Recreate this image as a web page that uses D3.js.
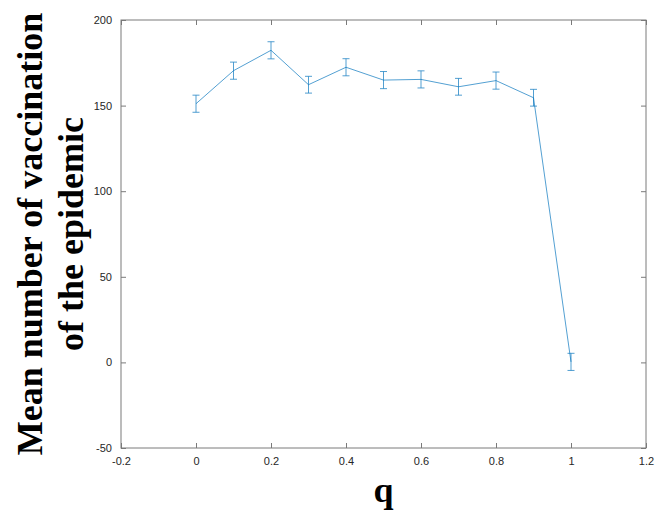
<!DOCTYPE html>
<html><head><meta charset="utf-8">
<script src="https://cdn.jsdelivr.net/npm/d3@7"></script>
<style>body{margin:0;background:#fff}</style>
</head><body><svg id="c" width="655" height="519"></svg>
<script>
const qValues = [0, 0.1, 0.2, 0.3, 0.4, 0.5, 0.6, 0.7, 0.8, 0.9, 1.0];
const meanValues = [151.1, 170.4, 182.3, 162.2, 172.4, 164.9, 165.3, 161.0, 164.6, 154.6, 0.3];
const errValues = [5.0, 5.0, 5.0, 4.9, 5.0, 5.0, 5.0, 4.9, 5.0, 4.9, 5.0];
const xTicks = [-0.2, 0, 0.2, 0.4, 0.6, 0.8, 1, 1.2];
const yTicks = [-50, 0, 50, 100, 150, 200];

const svg = d3.select("#c");
const L = 121, R = 646, T = 20, B = 448;
const x = d3.scaleLinear().domain([-0.2, 1.2]).range([L, R]);
const y = d3.scaleLinear().domain([-50, 200]).range([B, T]);
const axisColor = "#7a7a7a", textColor = "#262626";
const fmt = d => String(d);

function styleAxis(g, hideText) {
  g.select(".domain").remove();
  g.selectAll("line").attr("stroke", axisColor).attr("stroke-width", 1);
  g.selectAll("text").attr("fill", textColor).style("font-family", "'Liberation Sans', Arial, sans-serif").attr("font-size", 11);
  if (hideText) g.selectAll("text").remove();
}
svg.append("g").attr("transform", `translate(0,${B})`)
  .call(d3.axisBottom(x).tickValues(xTicks).tickSize(-5).tickPadding(9).tickFormat(fmt))
  .call(g => styleAxis(g, false));
svg.append("g").attr("transform", `translate(0,${T})`)
  .call(d3.axisTop(x).tickValues(xTicks).tickSize(-5).tickFormat(fmt))
  .call(g => styleAxis(g, true));
svg.append("g").attr("transform", `translate(${L},0)`)
  .call(d3.axisLeft(y).tickValues(yTicks).tickSize(-5).tickPadding(9).tickFormat(fmt))
  .call(g => styleAxis(g, false));
svg.append("g").attr("transform", `translate(${R},0)`)
  .call(d3.axisRight(y).tickValues(yTicks).tickSize(-5).tickFormat(fmt))
  .call(g => styleAxis(g, true));

svg.append("rect").attr("x", L).attr("y", T).attr("width", R - L).attr("height", B - T)
  .attr("fill", "none").attr("stroke", axisColor).attr("stroke-width", 1);

const data = qValues.map((q, i) => ({q, m: meanValues[i], e: errValues[i]}));
const blue = "#0072BD";
svg.append("path").datum(data)
  .attr("d", d3.line().x(d => x(d.q)).y(d => y(d.m)))
  .attr("fill", "none").attr("stroke", blue).attr("stroke-width", 0.8).attr("opacity", 0.85);

const eb = svg.append("g").attr("stroke", blue).attr("stroke-width", 0.8).attr("opacity", 0.85);
data.forEach(d => {
  const cx = x(d.q);
  eb.append("line").attr("x1", cx).attr("x2", cx).attr("y1", y(d.m + d.e)).attr("y2", y(d.m - d.e));
  eb.append("line").attr("x1", cx - 3.5).attr("x2", cx + 3.5).attr("y1", y(d.m + d.e)).attr("y2", y(d.m + d.e));
  eb.append("line").attr("x1", cx - 3.5).attr("x2", cx + 3.5).attr("y1", y(d.m - d.e)).attr("y2", y(d.m - d.e));
});

const serif = "'Liberation Serif', 'Times New Roman', serif";
const yl = svg.append("text").attr("transform", `translate(0,${(T + B) / 2}) rotate(-90)`)
  .attr("text-anchor", "middle").style("font-family", serif).attr("font-weight", "bold")
  .attr("font-size", 36).attr("fill", "#000");
yl.append("tspan").attr("x", 0).attr("y", 42).text("Mean number of vaccination");
yl.append("tspan").attr("x", 0).attr("y", 83).text("of the epidemic");

svg.append("text").attr("x", (L + R) / 2).attr("y", 502).attr("text-anchor", "middle")
  .style("font-family", serif).attr("font-weight", "bold").attr("font-size", 36).attr("fill", "#000").text("q");
</script></body></html>
